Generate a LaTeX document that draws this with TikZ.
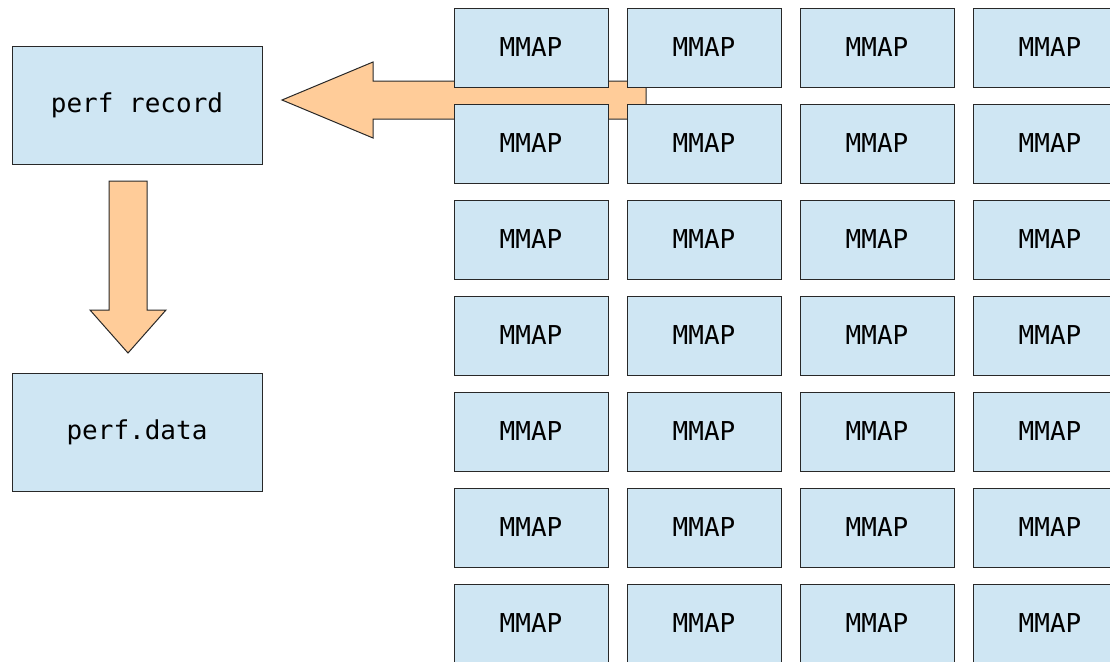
\documentclass[tikz,border=0pt]{standalone}
\usepackage{fontspec}
\setmonofont{DejaVu Sans Mono}
\definecolor{boxfill}{RGB}{207,230,243}
\definecolor{boxline}{RGB}{40,40,40}
\definecolor{arrowfill}{RGB}{255,204,153}
\tikzset{
  blockbox/.style={draw=boxline, fill=boxfill, line width=0.75pt, rectangle, inner sep=0pt,
    font=\fontsize{19.5pt}{22pt}\selectfont\ttfamily, text=black},
  mmapbox/.style={blockbox, minimum width=115.5pt, minimum height=59.25pt},
  sidebox/.style={blockbox, minimum width=187.5pt, minimum height=88.5pt},
  blockarrow/.style={draw=boxline, fill=arrowfill, line width=0.75pt, line join=miter}
}
\begin{document}
\begin{tikzpicture}[x=0.75pt, y=-0.75pt]
\useasboundingbox (0,0) rectangle (1110,661);
\clip (0,0) rectangle (1110,661);
% block arrows (behind boxes)
\draw[blockarrow] (282,100) -- (373,62) -- (373,81) -- (646,81) -- (646,119) -- (373,119) -- (373,138) -- cycle;
\draw[blockarrow] (109,181) -- (147,181) -- (147,310) -- (166,310) -- (128,353) -- (90,310) -- (109,310) -- cycle;
% side boxes
\node[sidebox] (rec) at (137,105) {perf record};
\node[sidebox] (data) at (137,432) {perf.data};
% MMAP grid
\foreach \r in {0,...,6} {
  \foreach \c in {0,...,3} {
    \node[mmapbox] (m\r\c) at ({531+173*\c},{47.5+96*\r}) {MMAP};
  }
}
\end{tikzpicture}
\end{document}
